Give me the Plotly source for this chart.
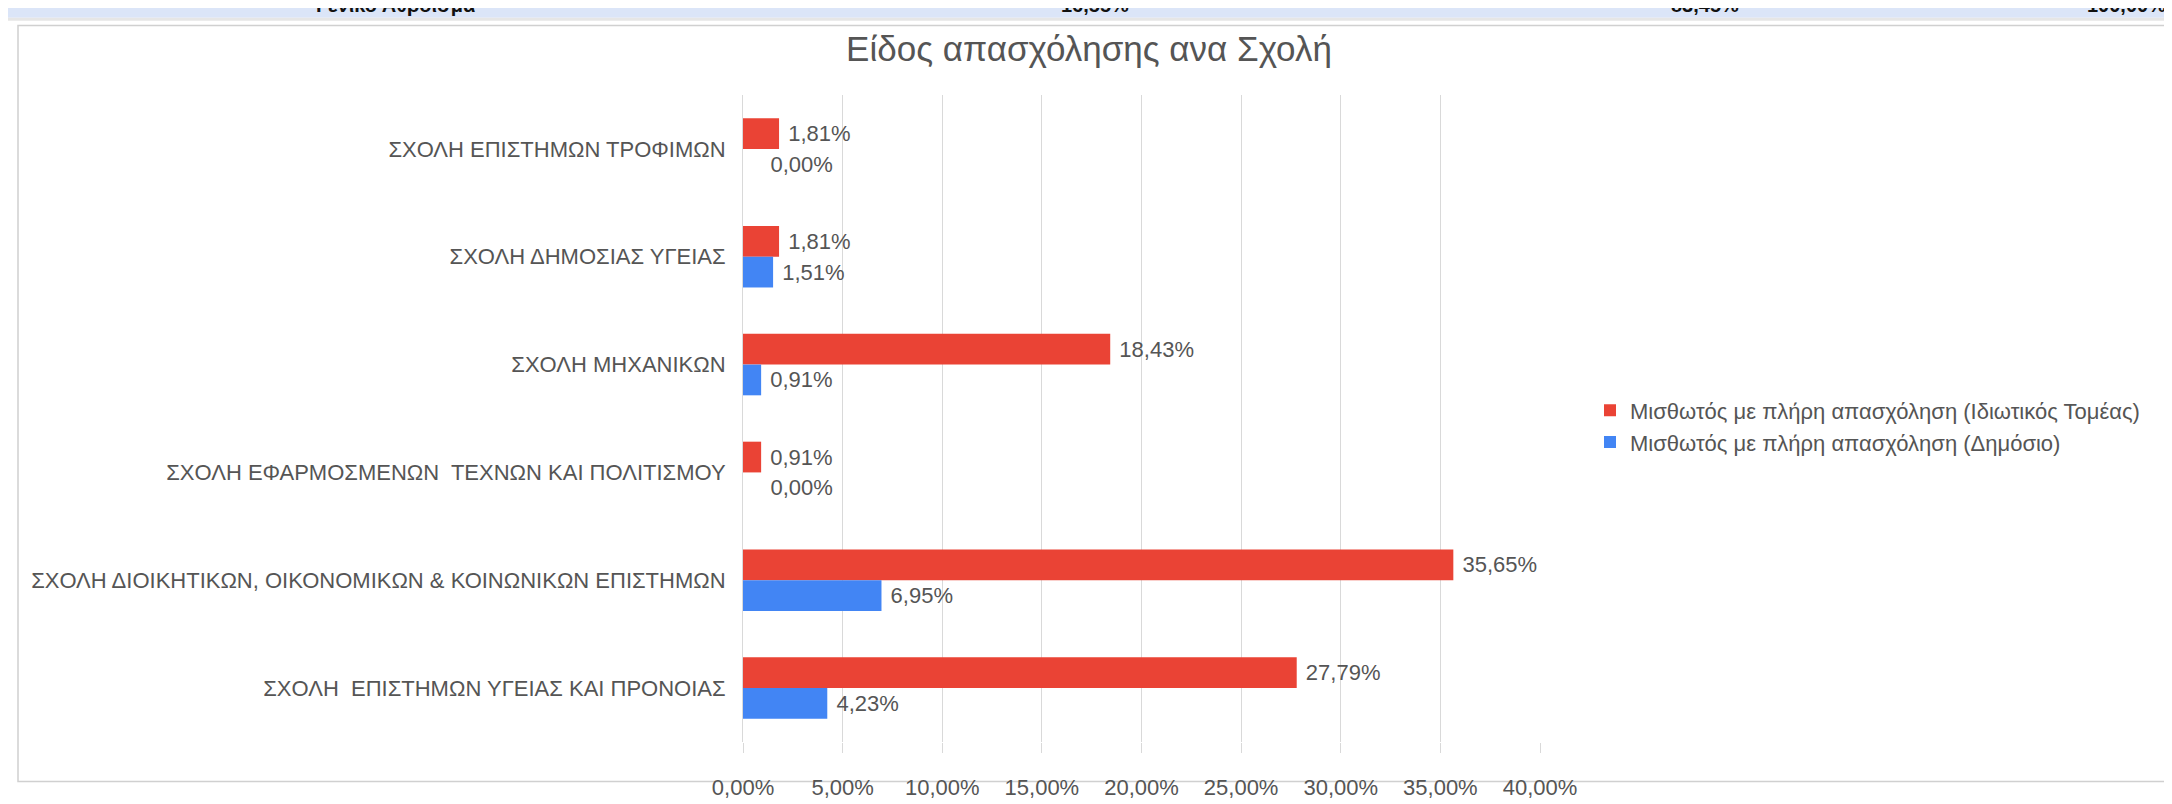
import plotly.graph_objects as go

W, H = 2172, 804
schools = [
    "ΣΧΟΛΗ ΕΠΙΣΤΗΜΩΝ ΤΡΟΦΙΜΩΝ",
    "ΣΧΟΛΗ ΔΗΜΟΣΙΑΣ ΥΓΕΙΑΣ",
    "ΣΧΟΛΗ ΜΗΧΑΝΙΚΩΝ",
    "ΣΧΟΛΗ ΕΦΑΡΜΟΣΜΕΝΩΝ  ΤΕΧΝΩΝ ΚΑΙ ΠΟΛΙΤΙΣΜΟΥ",
    "ΣΧΟΛΗ ΔΙΟΙΚΗΤΙΚΩΝ, ΟΙΚΟΝΟΜΙΚΩΝ & ΚΟΙΝΩΝΙΚΩΝ ΕΠΙΣΤΗΜΩΝ",
    "ΣΧΟΛΗ  ΕΠΙΣΤΗΜΩΝ ΥΓΕΙΑΣ ΚΑΙ ΠΡΟΝΟΙΑΣ",
]
private_sector = [0.0181, 0.0181, 0.1843, 0.0091, 0.3565, 0.2779]
public_sector = [0.0000, 0.0151, 0.0091, 0.0000, 0.0695, 0.0423]
series_names = [
    "Μισθωτός με πλήρη απασχόληση (Ιδιωτικός Τομέας)",
    "Μισθωτός με πλήρη απασχόληση (Δημόσιο)",
]
x_ticks = [0, 0.05, 0.10, 0.15, 0.20, 0.25, 0.30, 0.35, 0.40]
top_strip_texts = ["Γενικό Άθροισμα", "16,55%", "83,45%", "100,00%"]

FONT = "Liberation Sans, Arial, sans-serif"
RED = "#EA4335"
BLUE = "#4285F4"
TXT = "#555555"

# plot area in pixels
PL, PR, PT, PB = 735, 1532, 87, 757
pw, ph = PR - PL, PB - PT

def px(x):
    return (x - PL) / pw

def py(y):
    return 1 - (y - PT) / ph

def label(v):
    # Greek-locale percentage label; zero-length bars get a wider lead-in gap
    pad = "\u00a0" * (4 if v == 0 else 1)
    return pad + f"{v * 100:.2f}%".replace(".", ",")

fig = go.Figure()
for vals, name, col in [(private_sector, series_names[0], RED),
                        (public_sector, series_names[1], BLUE)]:
    fig.add_trace(go.Bar(
        y=schools, x=vals, orientation="h", name=name,
        marker=dict(color=col, line=dict(width=0)),
        text=[label(v) for v in vals], texttemplate="%{text}",
        textposition="outside",
        textfont=dict(color=TXT, size=22, family=FONT), cliponaxis=False,
        hovertemplate="%{y}: %{x:.2%}<extra></extra>",
    ))

shapes = [
    # chart border
    dict(type="rect", xref="paper", yref="paper", x0=px(10), x1=px(2160),
         y0=py(798), y1=py(15), line=dict(color="#d0d0d0", width=1.5),
         fillcolor="rgba(0,0,0,0)", layer="below"),
    # top strip (table remnant)
    dict(type="rect", xref="paper", yref="paper", x0=px(0), x1=px(W),
         y0=py(7), y1=py(-5), line=dict(width=0), fillcolor="#dbe5f8", layer="below"),
    dict(type="rect", xref="paper", yref="paper", x0=px(0), x1=px(W),
         y0=py(10), y1=py(7), line=dict(width=0), fillcolor="#e6e6e6", layer="below"),
]

annotations = []
for txt, xc in zip(top_strip_texts, [388, 1087, 1697, 2118]):
    annotations.append(dict(
        text=f"<b>{txt}</b>", xref="paper", yref="paper", x=px(xc), y=py(-6),
        showarrow=False, font=dict(size=20, family=FONT, color="#111111"),
        xanchor="center", yanchor="middle",
    ))

fig.update_layout(
    width=W, height=H,
    margin=dict(l=PL, r=W - PR, t=PT, b=H - PB),
    paper_bgcolor="white", plot_bgcolor="white",
    separators=",.",
    barmode="group", bargap=0.43, bargroupgap=0,
    title=dict(text="Είδος απασχόλησης ανα Σχολή", x=px(1081), xref="paper",
               xanchor="center", y=1 - 41 / H, yanchor="middle",
               font=dict(size=35, family=FONT, color="#555555")),
    xaxis=dict(range=[0, 0.4], tickvals=x_ticks, tickformat=".2%",
               showgrid=True, gridcolor="#d9d9d9", gridwidth=1,
               zeroline=False, showline=False,
               ticks="outside", ticklen=10, tickcolor="#d9d9d9",
               ticklabelstandoff=16,
               tickfont=dict(size=22, family=FONT, color=TXT)),
    yaxis=dict(autorange="reversed", showgrid=False, zeroline=False,
               showline=True, linecolor="#d9d9d9", linewidth=1,
               ticks="", ticklabelstandoff=12,
               tickfont=dict(size=22, family=FONT, color=TXT)),
    legend=dict(x=px(1582), y=py(392), xanchor="left", yanchor="top",
                font=dict(size=22, family=FONT, color=TXT),
                bgcolor="rgba(0,0,0,0)", itemwidth=30),
    shapes=shapes, annotations=annotations,
)

fig.write_html("out.html")
